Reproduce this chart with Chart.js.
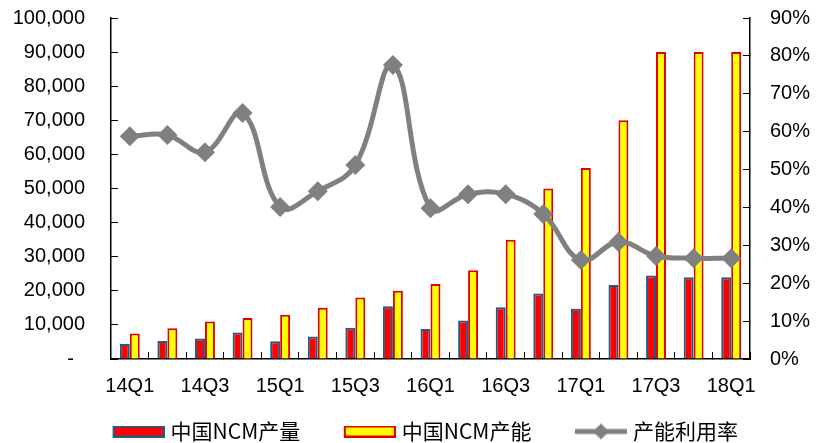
<!DOCTYPE html>
<html lang="zh-CN">
<head>
  <meta charset="utf-8" />
  <title>中国NCM产量与产能</title>
  <script src="https://cdn.jsdelivr.net/npm/chart.js"></script>
  <style>
    body {
      margin: 0;
      background: #fff;
    }
    #wrap {
      width: 817px;
      height: 443px;
      position: relative;
    }
  </style>
</head>
<body>
  <div id="wrap"><canvas id="chart"></canvas></div>

  <script>
    // 季度
    const quarters = ['14Q1', '14Q2', '14Q3', '14Q4', '15Q1', '15Q2', '15Q3', '15Q4',
      '16Q1', '16Q2', '16Q3', '16Q4', '17Q1', '17Q2', '17Q3', '17Q4', '18Q1'];

    // 中国NCM产量 (吨)
    const output = [4400, 5300, 6000, 7800, 5200, 6600, 9200, 15500,
      8800, 11300, 15200, 19200, 14700, 21700, 24500, 24000, 24000];

    // 中国NCM产能 (吨)
    const capacity = [7500, 9000, 11000, 12000, 13000, 15000, 18000, 20000,
      22000, 26000, 35000, 50000, 56000, 70000, 90000, 90000, 90000];

    // 产能利用率 (%)
    const utilization = [58.8, 59.1, 54.6, 64.9, 40.1, 44.3, 51.2, 77.6,
      39.8, 43.5, 43.5, 38.3, 26.1, 30.9, 27.2, 26.6, 26.6];

    const seriesNames = ['中国NCM产量', '中国NCM产能', '产能利用率'];

    Chart.defaults.font.family = '"Liberation Sans", Arial, sans-serif';
    Chart.defaults.color = '#000';

    // 图例小图标 (左侧留白用来拉开图例间距)
    function legendBox(fill, stroke) {
      const c = document.createElement('canvas');
      c.width = 90; c.height = 12;
      const g = c.getContext('2d');
      g.fillStyle = fill;
      g.fillRect(38, 0, 52, 12);
      g.strokeStyle = stroke;
      g.lineWidth = 2;
      g.strokeRect(39, 1, 50, 10);
      return c;
    }

    function legendLine() {
      const c = document.createElement('canvas');
      c.width = 90; c.height = 18;
      const g = c.getContext('2d');
      g.strokeStyle = '#808080';
      g.lineWidth = 5;
      g.beginPath();
      g.moveTo(38, 9); g.lineTo(90, 9);
      g.stroke();
      g.fillStyle = '#808080';
      g.beginPath();
      g.moveTo(64, 1); g.lineTo(72, 9); g.lineTo(64, 17); g.lineTo(56, 9);
      g.closePath();
      g.fill();
      return c;
    }

    const legendIcons = [
      legendBox('#ff0000', '#1f5a8a'),
      legendBox('#ffff00', '#e00000'),
      legendLine()
    ];

    // 刻度朝内, 取消标签带来的额外留白
    function fixVertical(width) {
      return function (scale) {
        scale.width = width;
        scale.paddingTop = 0;
        scale.paddingBottom = 0;
      };
    }

    const ctx = document.getElementById('chart').getContext('2d');

    new Chart(ctx, {
      type: 'bar',
      data: {
        labels: quarters,
        datasets: [
          {
            label: seriesNames[0],
            data: output,
            backgroundColor: '#ff0000',
            borderColor: '#1f5a8a',
            borderWidth: 2,
            yAxisID: 'y',
            categoryPercentage: 0.53,
            barPercentage: 1.0,
            order: 1
          },
          {
            label: seriesNames[1],
            data: capacity,
            backgroundColor: '#ffff00',
            borderColor: '#e00000',
            borderWidth: 2,
            yAxisID: 'y',
            categoryPercentage: 0.53,
            barPercentage: 1.0,
            order: 1
          },
          {
            type: 'line',
            label: seriesNames[2],
            data: utilization,
            borderColor: '#808080',
            backgroundColor: '#808080',
            borderWidth: 5,
            tension: 0.4,
            pointStyle: 'rectRot',
            pointRadius: 10,
            pointBorderWidth: 0,
            pointBackgroundColor: '#808080',
            yAxisID: 'y1',
            order: 0
          }
        ]
      },
      options: {
        responsive: true,
        maintainAspectRatio: false,
        animation: false,
        layout: {
          padding: { top: 18, left: 0, right: 0, bottom: -9 }
        },
        plugins: {
          tooltip: { enabled: false },
          legend: {
            position: 'bottom',
            labels: {
              usePointStyle: true,
              pointStyleWidth: 81,
              padding: 10,
              font: { family: '"Noto Sans CJK SC", sans-serif', size: 21 },
              color: '#000',
              generateLabels: () => seriesNames.map((name, i) => ({
                text: name,
                pointStyle: legendIcons[i],
                fillStyle: 'transparent',
                strokeStyle: 'transparent',
                lineWidth: 0,
                hidden: false,
                datasetIndex: i
              }))
            }
          }
        },
        scales: {
          x: {
            offset: true,
            grid: {
              offset: true,
              drawOnChartArea: false,
              tickLength: -7,
              color: '#000',
              tickColor: '#000'
            },
            border: { display: true, color: '#000', width: 1.5 },
            ticks: {
              autoSkip: false,
              maxRotation: 0,
              padding: 22,
              font: { size: 20 },
              callback: function (value, index) {
                return index % 2 === 0 ? quarters[index] : '';
              }
            },
            afterFit: function (scale) {
              scale.height = 52;
              scale.paddingLeft = 0;
              scale.paddingRight = 0;
            }
          },
          y: {
            position: 'left',
            min: 0,
            max: 100000,
            grid: {
              drawOnChartArea: false,
              tickLength: -7,
              tickColor: '#000'
            },
            border: { display: true, color: '#000', width: 1.5 },
            ticks: {
              autoSkip: false,
              stepSize: 10000,
              padding: 33,
              font: { size: 20 },
              callback: v => v === 0 ? '-  ' : v.toLocaleString('en-US')
            },
            afterFit: fixVertical(111)
          },
          y1: {
            position: 'right',
            min: 0,
            max: 90,
            grid: {
              drawOnChartArea: false,
              tickLength: -7,
              tickColor: '#000'
            },
            border: { display: true, color: '#000', width: 1.5 },
            ticks: {
              autoSkip: false,
              stepSize: 10,
              padding: 27,
              font: { size: 20 },
              callback: v => v + '%'
            },
            afterFit: fixVertical(67)
          }
        }
      }
    });
  </script>
</body>
</html>
